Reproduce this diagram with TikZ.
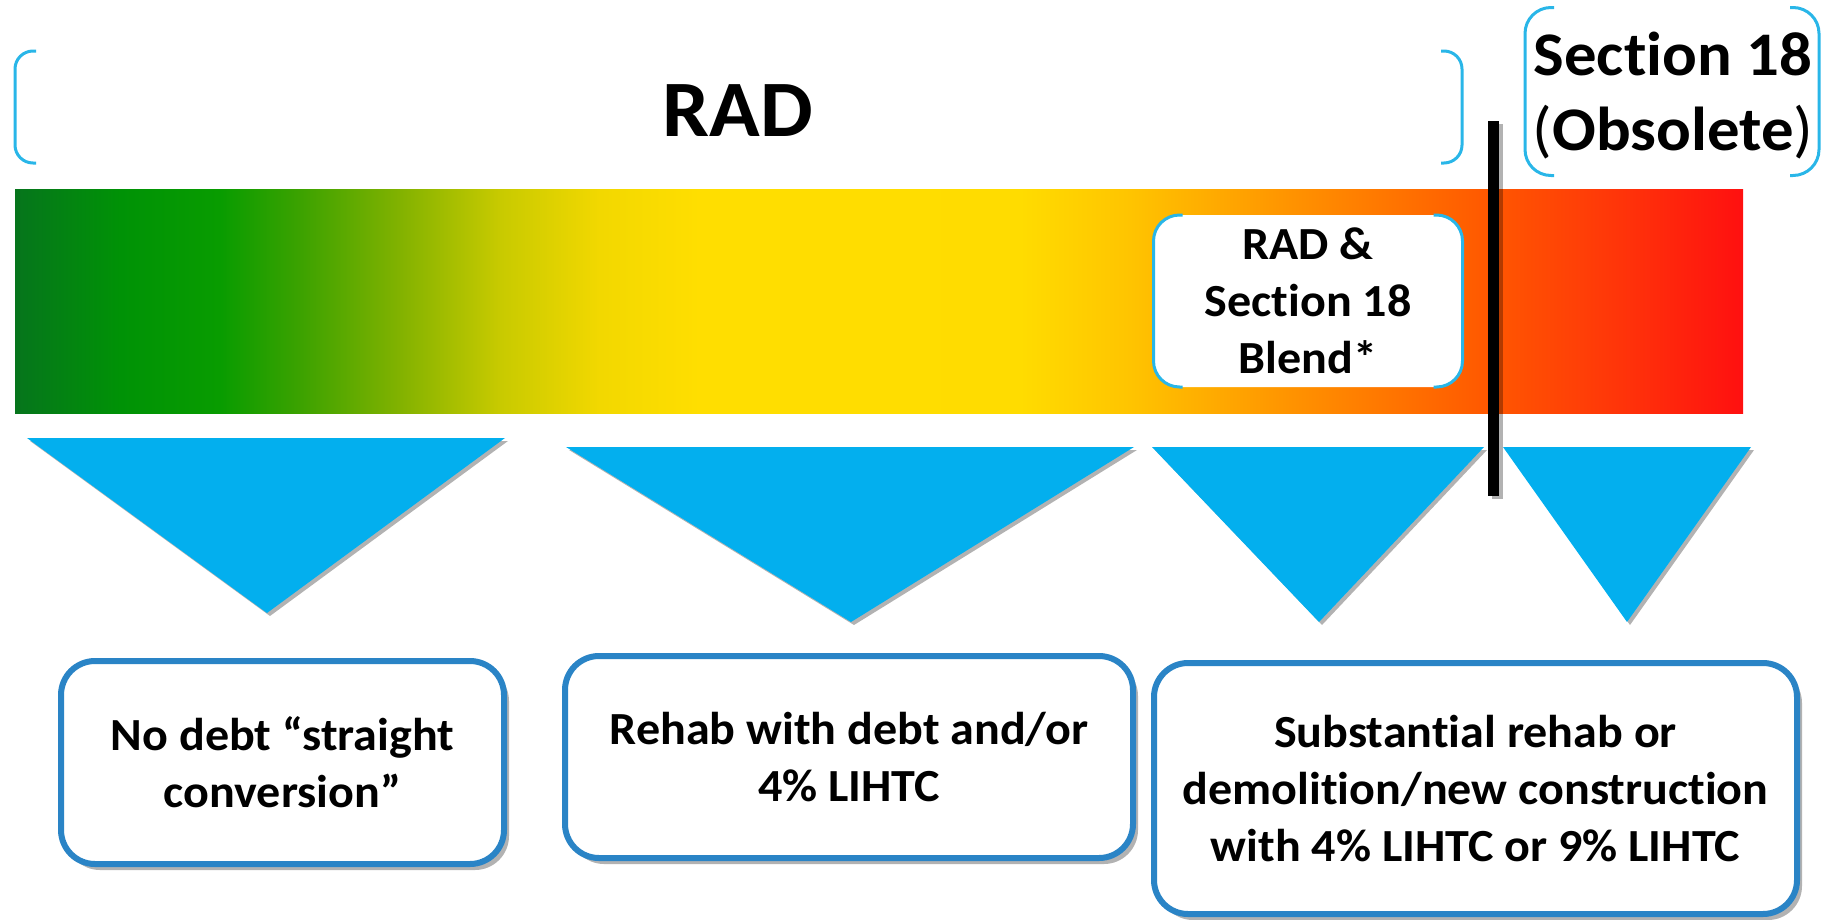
\documentclass[tikz,border=0pt]{standalone}
\usepackage{fontspec}
\setmainfont{Carlito}[Ligatures={NoCommon}, FakeStretch=1.045]
\usetikzlibrary{shadows}
\definecolor{brk}{RGB}{41,182,232}
\definecolor{tri}{RGB}{3,175,238}
\definecolor{boxb}{RGB}{42,132,198}
\definecolor{g0}{RGB}{6,117,28}
\definecolor{g1}{RGB}{0,146,6}
\definecolor{g2}{RGB}{8,156,0}
\definecolor{g3}{RGB}{60,162,0}
\definecolor{g4}{RGB}{130,178,0}
\definecolor{g5}{RGB}{200,202,0}
\definecolor{g6}{RGB}{242,216,0}
\definecolor{g7}{RGB}{255,222,0}
\definecolor{g8}{RGB}{255,220,0}
\definecolor{g9}{RGB}{255,196,0}
\definecolor{g10}{RGB}{255,144,0}
\definecolor{g11}{RGB}{255,90,0}
\definecolor{g12}{RGB}{255,58,8}
\definecolor{g13}{RGB}{255,16,16}
\pgfdeclarehorizontalshading{heat}{100bp}{color(0bp)=(g0); color(25bp)=(g0); color(28.04bp)=(g1); color(30.93bp)=(g2); color(33.25bp)=(g3); color(36.14bp)=(g4); color(39.03bp)=(g5); color(41.93bp)=(g6); color(44.82bp)=(g7); color(54.08bp)=(g8); color(57.26bp)=(g9); color(62.18bp)=(g10); color(67.39bp)=(g11); color(70.86bp)=(g12); color(75bp)=(g13); color(100bp)=(g13)}
\tikzset{
  bracketline/.style={draw=brk, line width=3pt},
  trishape/.style={fill=tri, drop shadow={shadow xshift=3pt, shadow yshift=-3pt, opacity=0.3, fill=black}},
  infobox/.style={draw=boxb, line width=6pt, fill=white, rounded corners=34pt, align=center, inner sep=0pt, outer sep=0pt, font=\fontsize{46}{57}\selectfont\bfseries, drop shadow={shadow xshift=5pt, shadow yshift=-6pt, opacity=0.3, fill=black}},
  spanbox/.style={inner sep=0pt, outer sep=0pt},
}
\begin{document}
\begin{tikzpicture}[x=1pt,y=-1pt]
\useasboundingbox (0,0) rectangle (1826,919);
% gradient bar
\shade[shading=heat] (15,189) rectangle (1743,413);
% RAD bracket pair and label
\node[spanbox, minimum width=1447pt, minimum height=112pt] (radspan) at (738.5,107) {};
\draw[bracketline, rounded corners=18pt] ([xshift=21pt]radspan.north west) -- (radspan.north west) -- (radspan.south west) -- ([xshift=21pt]radspan.south west);
\draw[bracketline, rounded corners=18pt] ([xshift=-21pt]radspan.north east) -- (radspan.north east) -- (radspan.south east) -- ([xshift=-21pt]radspan.south east);
\node[inner sep=0pt, font=\fontsize{80}{96}\selectfont\bfseries] (rad) at (738,110.5) {RAD};
% Section 18 bracket pair and label
\node[spanbox, minimum width=294pt, minimum height=168pt] (secspan) at (1672,91.5) {};
\draw[bracketline, rounded corners=26pt] ([xshift=29pt]secspan.north west) -- (secspan.north west) -- (secspan.south west) -- ([xshift=29pt]secspan.south west);
\draw[bracketline, rounded corners=26pt] ([xshift=-29pt]secspan.north east) -- (secspan.north east) -- (secspan.south east) -- ([xshift=-29pt]secspan.south east);
\node[inner sep=0pt, align=center, font=\fontsize{62}{75}\selectfont\bfseries] (sec) at (1673,96) {Section 18\\{\mdseries(}Obsolete{\mdseries)}};
% blend box
\node[spanbox, fill=white, rounded corners=28pt, minimum width=309pt, minimum height=172pt, align=center, font=\fontsize{46}{57}\selectfont\bfseries] (blend) at (1308,301) {RAD \&\\Section 18\\Blend*};
\draw[bracketline, rounded corners=26pt] ([xshift=29pt]blend.north west) -- (blend.north west) -- (blend.south west) -- ([xshift=29pt]blend.south west);
\draw[bracketline, rounded corners=26pt] ([xshift=-29pt]blend.north east) -- (blend.north east) -- (blend.south east) -- ([xshift=-29pt]blend.south east);
% triangles
\fill[trishape] (27,438) -- (505,438) -- (267,613) -- cycle;
\fill[trishape] (566,447) -- (1134,447) -- (851,622) -- cycle;
\fill[trishape] (1152,447) -- (1484,447) -- (1319,622) -- cycle;
\fill[trishape] (1503,447) -- (1751,447) -- (1627,622) -- cycle;
% divider
\fill[black, drop shadow={shadow xshift=4pt, shadow yshift=-3pt, opacity=0.3, fill=black}] (1488,121) rectangle (1499,496);
% bottom boxes
\node[infobox, minimum width=443pt, minimum height=203pt] (b1) at (282.5,762.5) {No debt “straight\\conversion”};
\node[infobox, minimum width=568pt, minimum height=202pt] (b2) at (849,757) {Rehab with debt and/or\\4\% LIHTC};
\node[infobox, minimum width=643pt, minimum height=251pt] (b3) at (1475.5,788.5) {Substantial rehab or\\demolition/new construction\\with 4\% LIHTC or 9\% LIHTC};
\end{tikzpicture}
\end{document}
